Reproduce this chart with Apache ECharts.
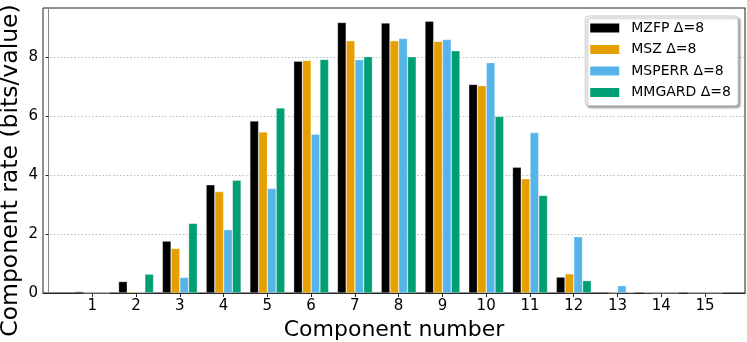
<!DOCTYPE html>
<html>
<head>
<meta charset="utf-8">
<script src="https://cdn.jsdelivr.net/npm/echarts@6/dist/echarts.min.js"></script>
<style>html,body{margin:0;padding:0;background:#fff}#c{width:747px;height:342px}</style>
</head>
<body>
<div id="c"></div>
<script>
const components = [1,2,3,4,5,6,7,8,9,10,11,12,13,14,15];
const seriesNames = ['MZFP Δ=8','MSZ Δ=8','MSPERR Δ=8','MMGARD Δ=8'];
const mzfp   = [0.05,0.39,1.76,3.67,5.83,7.86,9.17,9.15,9.21,7.07,4.26,0.54,0.04,0.02,0.0];
const msz    = [0.0,0.04,1.51,3.44,5.46,7.88,8.55,8.55,8.53,7.03,3.87,0.65,0.0,0.0,0.0];
const msperr = [0.0,0.02,0.53,2.15,3.54,5.38,7.91,8.63,8.59,7.81,5.44,1.91,0.25,0.0,0.0];
const mmgard = [0.0,0.64,2.36,3.82,6.27,7.92,8.01,8.01,8.21,5.98,3.31,0.42,0.02,0.0,0.0];
const yTicks = [0,2,4,6,8];
const colors = ['#000000','#E69F00','#56B4E9','#009E73'];

const allValues = [mzfp, msz, msperr, mmgard];
const font = 'DejaVu Sans';
const Y_MAX = 9.66;

const chart = echarts.init(document.getElementById('c'), null, {renderer:'canvas'});
chart.setOption({
  animation: false,
  backgroundColor: '#fff',
  grid: [
    {left: 43, right: 2, top: 8, bottom: 49, show: true, borderColor: '#222', borderWidth: 1, containLabel: false, outerBoundsMode: 'none'},
    {left: 70.4, right: 20, top: 8, bottom: 49, containLabel: false, outerBoundsMode: 'none'}
  ],
  legend: {
    orient: 'vertical',
    right: 9, top: 16,
    data: seriesNames,
    itemWidth: 29, itemHeight: 9, itemGap: 7.5,
    padding: [5, 7, 6, 5],
    icon: 'rect',
    backgroundColor: '#fff',
    borderColor: '#ccc', borderWidth: 1, borderRadius: 3,
    shadowColor: 'rgba(0,0,0,0.35)', shadowBlur: 2, shadowOffsetX: 2, shadowOffsetY: 2,
    itemStyle: {borderWidth: 0},
    textStyle: {fontFamily: font, fontSize: 14, color: '#000', lineHeight: 14, padding: [0,0,0,7]}
  },
  xAxis: [
    {
      gridIndex: 0,
      type: 'value',
      min: -0.127, max: 15.915,
      name: 'Component number',
      nameLocation: 'middle', nameGap: 26,
      nameMoveOverlap: false,
      nameTextStyle: {fontFamily: font, fontSize: 22, color: '#000'},
      axisLine: {show: true, lineStyle: {color: '#222', width: 1}},
      axisTick: {show: true, customValues: components, length: 4, lineStyle: {color: '#222'}},
      axisLabel: {customValues: components, fontFamily: font, fontSize: 15, color: '#000', margin: 6},
      splitLine: {show: false}
    },
    {
      gridIndex: 1,
      type: 'category',
      data: components,
      show: false,
      boundaryGap: true
    }
  ],
  yAxis: [
    {
      gridIndex: 0,
      type: 'value',
      min: 0, max: Y_MAX,
      name: 'Component rate (bits/value)',
      nameLocation: 'middle', nameGap: 20,
      nameMoveOverlap: false,
      nameTextStyle: {fontFamily: font, fontSize: 23.5, color: '#000', padding: [0, 40, 0, 0]},
      axisLine: {show: true, lineStyle: {color: '#888', width: 1}},
      axisTick: {show: true, customValues: yTicks, length: 3, lineStyle: {color: '#222'}},
      axisLabel: {customValues: yTicks, fontFamily: font, fontSize: 15, color: '#000', margin: 5},
      splitLine: {show: true, lineStyle: {color: '#bbb', type: [1.5, 2], width: 1}}
    },
    {
      gridIndex: 1,
      type: 'value',
      min: 0, max: Y_MAX,
      show: false,
      splitLine: {show: false}
    },
    {
      gridIndex: 0,
      type: 'value',
      position: 'right',
      min: 0, max: Y_MAX,
      axisLine: {show: true, lineStyle: {color: '#888', width: 1}},
      axisTick: {show: false},
      axisLabel: {show: false},
      splitLine: {show: false}
    }
  ],
  series: seriesNames.map((name, i) => ({
    name: name,
    type: 'bar',
    xAxisIndex: 1,
    yAxisIndex: 1,
    barCategoryGap: '20%',
    barGap: '0%',
    itemStyle: {color: colors[i], borderColor: 'rgba(255,255,255,0.5)', borderWidth: 0.6},
    data: allValues[i]
  }))
});
</script>
</body>
</html>
